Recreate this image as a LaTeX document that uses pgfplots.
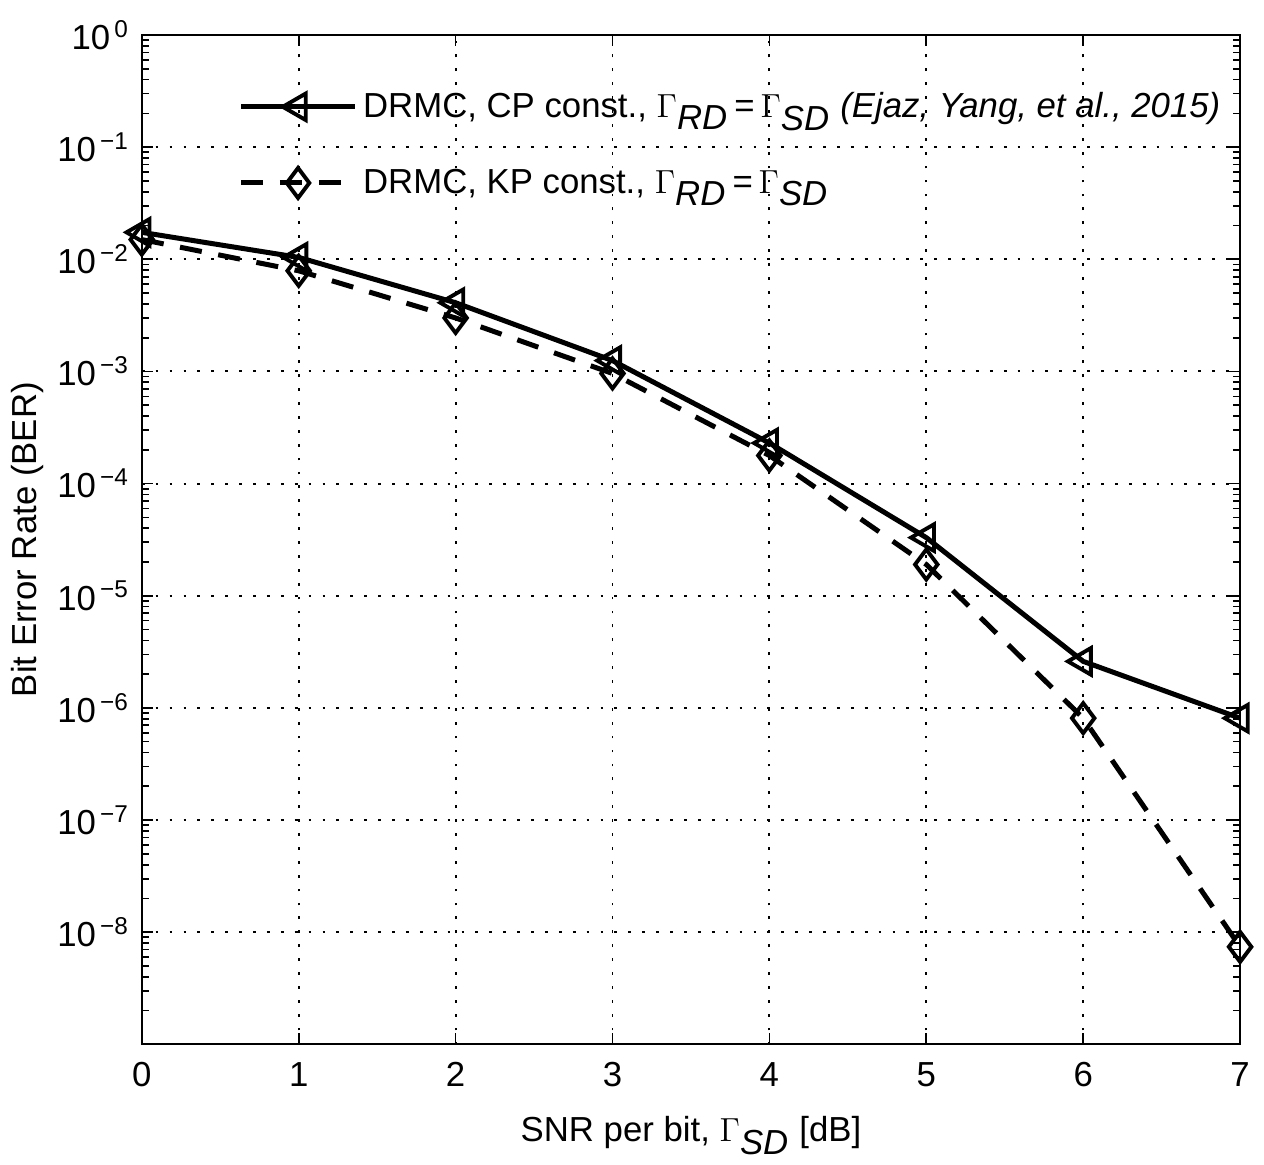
\documentclass[border=0pt]{standalone}
\usepackage{fontspec}
\setmainfont{Liberation Sans}
\usepackage{pgfplots}
\pgfplotsset{compat=1.18}

\newcommand{\tp}[1]{10\textsuperscript{\,#1}}
\newcommand{\fs}{\fontsize{12.5}{15}\selectfont}

\begin{document}
\begin{tikzpicture}
\begin{axis}[
  scale only axis,
  width=395pt, height=363pt,
  xmin=0, xmax=7,
  ymode=log, ymin=1e-9, ymax=1,
  xtick={0,...,7},
  ytick={1e-9,1e-8,1e-7,1e-6,1e-5,1e-4,1e-3,1e-2,1e-1,1},
  yticklabels={,\tp{−8},\tp{−7},\tp{−6},\tp{−5},\tp{−4},\tp{−3},\tp{−2},\tp{−1},\tp{0}},
  x tick label style={font=\fs, /pgf/number format/assume math mode=true, yshift=-3pt},
  y tick label style={font=\fs, xshift=-1pt},
  tick align=inside,
  major tick length=4pt,
  minor tick length=2.5pt,
  tick style={black, line width=0.6pt},
  axis line style={line width=0.7pt},
  grid=major,
  major grid style={black, line width=0.7pt, dash pattern=on 1pt off 4pt},
  xlabel={SNR per bit, $\Gamma_{\textit{SD}}$ [dB]},
  ylabel={Bit Error Rate (BER)},
  label style={font=\fs},
  xlabel style={at={(axis description cs:0.5,0)}, anchor=base, yshift=-35pt},
  ylabel style={at={(axis description cs:-0.104,0.5)}, anchor=center},
  legend style={draw=none, fill=none, at={(axis description cs:0.08,0.955)},
    anchor=north west, row sep=13pt, font=\fs,
    legend cell align=left},
  legend image code/.code={
    \draw[mark repeat=2, mark phase=2] plot coordinates {(0pt,0pt) (20.5pt,0pt) (41pt,0pt)};
  },
]
\addplot[black, line width=1.8pt, mark=triangle, mark size=5.5pt,
  mark options={solid, rotate=90, line width=1.4pt}]
  coordinates {
  (0,1.74e-2) (1,1.04e-2) (2,4.1e-3) (3,1.25e-3)
  (4,2.3e-4) (5,3.3e-5) (6,2.6e-6) (7,8.1e-7)
};
\addlegendentry{DRMC, CP const., $\Gamma_{\textit{RD}}$\,=\,$\Gamma_{\textit{SD}}$ \textit{(Ejaz, Yang, et al., 2015)}}
\addplot[black, line width=1.8pt, dash pattern=on 8pt off 6pt, mark=diamond, mark size=5.4pt,
  mark options={solid, line width=1.4pt}]
  coordinates {
  (0,1.5e-2) (1,7.9e-3) (2,3.0e-3) (3,9.6e-4)
  (4,1.78e-4) (5,1.9e-5) (6,8.1e-7) (7,7.4e-9)
};
\addlegendentry{DRMC, KP const., $\Gamma_{\textit{RD}}$\,=\,$\Gamma_{\textit{SD}}$}
\end{axis}
\path (current axis.south west) ++(-51pt,-40pt) (current axis.north east) ++(8.6pt,12.6pt);
\end{tikzpicture}
\end{document}
